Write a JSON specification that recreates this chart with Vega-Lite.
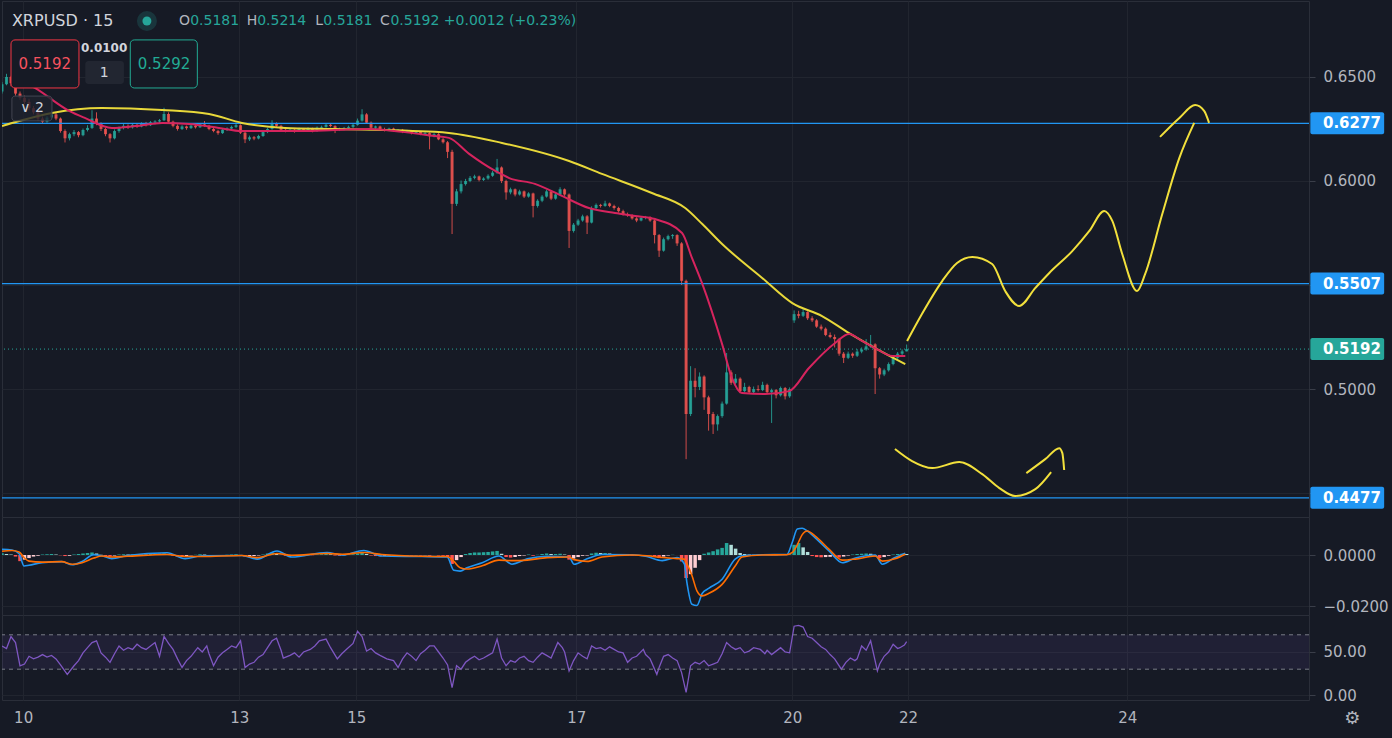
{
  "$schema": "https://vega.github.io/schema/vega-lite/v6.json",
  "background": "#161a25",
  "padding": {"left": 0, "top": 0, "right": 12, "bottom": 14},
  "spacing": 0,
  "bounds": "flush",
  "config": {
    "view": {"stroke": "#2a2e39", "strokeWidth": 1},
    "font": "DejaVu Sans",
    "axis": {"labelColor": "#b2b5be", "labelFontSize": 15, "labelFont": "DejaVu Sans", "gridColor": "#21252f", "tickColor": "#3a3e49", "domain": false, "title": null, "labelFlush": false},
    "text": {"font": "DejaVu Sans"}
  },
  "datasets": {
    "bars": [
      {"t":0,"o":0.6430,"hi":0.6475,"lo":0.6420,"c":0.6465,"hs":0.0007},
      {"t":1,"o":0.6465,"hi":0.6515,"lo":0.6460,"c":0.6500,"hs":0.0004},
      {"t":2,"o":0.6500,"hi":0.6505,"lo":0.6455,"c":0.6470,"hs":0.0002},
      {"t":3,"o":0.6470,"hi":0.6478,"lo":0.6410,"c":0.6420,"hs":-0.0006},
      {"t":4,"o":0.6420,"hi":0.6430,"lo":0.6390,"c":0.6400,"hs":-0.0024},
      {"t":5,"o":0.6400,"hi":0.6410,"lo":0.6370,"c":0.6380,"hs":-0.0018},
      {"t":6,"o":0.6380,"hi":0.6395,"lo":0.6340,"c":0.6350,"hs":-0.0012},
      {"t":7,"o":0.6350,"hi":0.6360,"lo":0.6320,"c":0.6330,"hs":-0.0006},
      {"t":8,"o":0.6330,"hi":0.6338,"lo":0.6290,"c":0.6300,"hs":-0.0003},
      {"t":9,"o":0.6300,"hi":0.6310,"lo":0.6275,"c":0.6285,"hs":0.0002},
      {"t":10,"o":0.6285,"hi":0.6312,"lo":0.6280,"c":0.6305,"hs":0.0003},
      {"t":11,"o":0.6305,"hi":0.6335,"lo":0.6298,"c":0.6320,"hs":0.0004},
      {"t":12,"o":0.6320,"hi":0.6328,"lo":0.6292,"c":0.6300,"hs":0.0002},
      {"t":13,"o":0.6300,"hi":0.6305,"lo":0.6232,"c":0.6240,"hs":-0.0001},
      {"t":14,"o":0.6240,"hi":0.6248,"lo":0.6185,"c":0.6205,"hs":-0.0004},
      {"t":15,"o":0.6205,"hi":0.6232,"lo":0.6195,"c":0.6225,"hs":-0.0003},
      {"t":16,"o":0.6225,"hi":0.6245,"lo":0.6215,"c":0.6235,"hs":0.0002},
      {"t":17,"o":0.6235,"hi":0.6240,"lo":0.6210,"c":0.6220,"hs":0.0004},
      {"t":18,"o":0.6220,"hi":0.6252,"lo":0.6215,"c":0.6245,"hs":0.0006},
      {"t":19,"o":0.6245,"hi":0.6268,"lo":0.6238,"c":0.6255,"hs":0.0008},
      {"t":20,"o":0.6255,"hi":0.6340,"lo":0.6250,"c":0.6300,"hs":0.0010},
      {"t":21,"o":0.6300,"hi":0.6330,"lo":0.6268,"c":0.6275,"hs":0.0006},
      {"t":22,"o":0.6275,"hi":0.6282,"lo":0.6240,"c":0.6250,"hs":0.0001},
      {"t":23,"o":0.6250,"hi":0.6256,"lo":0.6215,"c":0.6225,"hs":-0.0004},
      {"t":24,"o":0.6225,"hi":0.6230,"lo":0.6185,"c":0.6205,"hs":-0.0006},
      {"t":25,"o":0.6205,"hi":0.6248,"lo":0.6200,"c":0.6240,"hs":-0.0002},
      {"t":26,"o":0.6240,"hi":0.6262,"lo":0.6232,"c":0.6255,"hs":0.0002},
      {"t":27,"o":0.6255,"hi":0.6275,"lo":0.6248,"c":0.6265,"hs":0.0003},
      {"t":28,"o":0.6265,"hi":0.6272,"lo":0.6250,"c":0.6258,"hs":0.0002},
      {"t":29,"o":0.6258,"hi":0.6278,"lo":0.6252,"c":0.6270,"hs":0.0003},
      {"t":30,"o":0.6270,"hi":0.6276,"lo":0.6255,"c":0.6262,"hs":0.0002},
      {"t":31,"o":0.6262,"hi":0.6282,"lo":0.6258,"c":0.6276,"hs":0.0003},
      {"t":32,"o":0.6276,"hi":0.6284,"lo":0.6262,"c":0.6268,"hs":0.0002},
      {"t":33,"o":0.6268,"hi":0.6288,"lo":0.6264,"c":0.6282,"hs":0.0004},
      {"t":34,"o":0.6282,"hi":0.6292,"lo":0.6272,"c":0.6286,"hs":0.0005},
      {"t":35,"o":0.6286,"hi":0.6298,"lo":0.6278,"c":0.6292,"hs":0.0006},
      {"t":36,"o":0.6292,"hi":0.6352,"lo":0.6288,"c":0.6322,"hs":0.0007},
      {"t":37,"o":0.6322,"hi":0.6330,"lo":0.6278,"c":0.6285,"hs":0.0002},
      {"t":38,"o":0.6285,"hi":0.6290,"lo":0.6258,"c":0.6265,"hs":-0.0003},
      {"t":39,"o":0.6265,"hi":0.6272,"lo":0.6242,"c":0.6250,"hs":-0.0006},
      {"t":40,"o":0.6250,"hi":0.6268,"lo":0.6245,"c":0.6262,"hs":-0.0007},
      {"t":41,"o":0.6262,"hi":0.6266,"lo":0.6246,"c":0.6254,"hs":-0.0004},
      {"t":42,"o":0.6254,"hi":0.6272,"lo":0.6250,"c":0.6266,"hs":-0.0001},
      {"t":43,"o":0.6266,"hi":0.6270,"lo":0.6252,"c":0.6258,"hs":0.0001},
      {"t":44,"o":0.6258,"hi":0.6278,"lo":0.6255,"c":0.6272,"hs":0.0003},
      {"t":45,"o":0.6272,"hi":0.6288,"lo":0.6260,"c":0.6265,"hs":0.0002},
      {"t":46,"o":0.6265,"hi":0.6270,"lo":0.6244,"c":0.6250,"hs":-0.0001},
      {"t":47,"o":0.6250,"hi":0.6255,"lo":0.6234,"c":0.6240,"hs":-0.0002},
      {"t":48,"o":0.6240,"hi":0.6246,"lo":0.6222,"c":0.6230,"hs":-0.0003},
      {"t":49,"o":0.6230,"hi":0.6252,"lo":0.6226,"c":0.6246,"hs":-0.0001},
      {"t":50,"o":0.6246,"hi":0.6258,"lo":0.6240,"c":0.6252,"hs":0.0001},
      {"t":51,"o":0.6252,"hi":0.6266,"lo":0.6246,"c":0.6260,"hs":0.0002},
      {"t":52,"o":0.6260,"hi":0.6280,"lo":0.6254,"c":0.6268,"hs":0.0003},
      {"t":53,"o":0.6268,"hi":0.6272,"lo":0.6226,"c":0.6232,"hs":-0.0002},
      {"t":54,"o":0.6232,"hi":0.6238,"lo":0.6182,"c":0.6200,"hs":-0.0006},
      {"t":55,"o":0.6200,"hi":0.6218,"lo":0.6192,"c":0.6210,"hs":-0.0005},
      {"t":56,"o":0.6210,"hi":0.6216,"lo":0.6196,"c":0.6204,"hs":-0.0004},
      {"t":57,"o":0.6204,"hi":0.6222,"lo":0.6200,"c":0.6216,"hs":-0.0002},
      {"t":58,"o":0.6216,"hi":0.6240,"lo":0.6212,"c":0.6235,"hs":0.0002},
      {"t":59,"o":0.6235,"hi":0.6256,"lo":0.6230,"c":0.6250,"hs":0.0006},
      {"t":60,"o":0.6250,"hi":0.6292,"lo":0.6246,"c":0.6276,"hs":0.0010},
      {"t":61,"o":0.6276,"hi":0.6282,"lo":0.6260,"c":0.6265,"hs":0.0006},
      {"t":62,"o":0.6265,"hi":0.6270,"lo":0.6240,"c":0.6246,"hs":0.0001},
      {"t":63,"o":0.6246,"hi":0.6252,"lo":0.6234,"c":0.6240,"hs":-0.0003},
      {"t":64,"o":0.6240,"hi":0.6252,"lo":0.6236,"c":0.6246,"hs":-0.0004},
      {"t":65,"o":0.6246,"hi":0.6250,"lo":0.6232,"c":0.6240,"hs":-0.0003},
      {"t":66,"o":0.6240,"hi":0.6256,"lo":0.6236,"c":0.6250,"hs":-0.0001},
      {"t":67,"o":0.6250,"hi":0.6254,"lo":0.6238,"c":0.6245,"hs":0.0000},
      {"t":68,"o":0.6245,"hi":0.6258,"lo":0.6240,"c":0.6252,"hs":0.0001},
      {"t":69,"o":0.6252,"hi":0.6256,"lo":0.6234,"c":0.6240,"hs":-0.0001},
      {"t":70,"o":0.6240,"hi":0.6262,"lo":0.6236,"c":0.6256,"hs":0.0002},
      {"t":71,"o":0.6256,"hi":0.6266,"lo":0.6250,"c":0.6260,"hs":0.0003},
      {"t":72,"o":0.6260,"hi":0.6278,"lo":0.6256,"c":0.6270,"hs":0.0004},
      {"t":73,"o":0.6270,"hi":0.6274,"lo":0.6258,"c":0.6264,"hs":0.0003},
      {"t":74,"o":0.6264,"hi":0.6268,"lo":0.6230,"c":0.6245,"hs":-0.0002},
      {"t":75,"o":0.6245,"hi":0.6256,"lo":0.6240,"c":0.6250,"hs":-0.0003},
      {"t":76,"o":0.6250,"hi":0.6260,"lo":0.6244,"c":0.6255,"hs":-0.0001},
      {"t":77,"o":0.6255,"hi":0.6266,"lo":0.6250,"c":0.6260,"hs":0.0001},
      {"t":78,"o":0.6260,"hi":0.6276,"lo":0.6254,"c":0.6270,"hs":0.0003},
      {"t":79,"o":0.6270,"hi":0.6300,"lo":0.6266,"c":0.6290,"hs":0.0006},
      {"t":80,"o":0.6290,"hi":0.6345,"lo":0.6285,"c":0.6320,"hs":0.0009},
      {"t":81,"o":0.6320,"hi":0.6326,"lo":0.6274,"c":0.6280,"hs":0.0004},
      {"t":82,"o":0.6280,"hi":0.6286,"lo":0.6250,"c":0.6256,"hs":-0.0002},
      {"t":83,"o":0.6256,"hi":0.6266,"lo":0.6250,"c":0.6262,"hs":-0.0004},
      {"t":84,"o":0.6262,"hi":0.6266,"lo":0.6244,"c":0.6250,"hs":-0.0005},
      {"t":85,"o":0.6250,"hi":0.6256,"lo":0.6238,"c":0.6245,"hs":-0.0004},
      {"t":86,"o":0.6245,"hi":0.6256,"lo":0.6240,"c":0.6252,"hs":-0.0002},
      {"t":87,"o":0.6252,"hi":0.6256,"lo":0.6236,"c":0.6240,"hs":-0.0002},
      {"t":88,"o":0.6240,"hi":0.6250,"lo":0.6236,"c":0.6246,"hs":-0.0001},
      {"t":89,"o":0.6246,"hi":0.6250,"lo":0.6230,"c":0.6235,"hs":-0.0002},
      {"t":90,"o":0.6235,"hi":0.6246,"lo":0.6230,"c":0.6240,"hs":-0.0001},
      {"t":91,"o":0.6240,"hi":0.6244,"lo":0.6224,"c":0.6230,"hs":-0.0002},
      {"t":92,"o":0.6230,"hi":0.6240,"lo":0.6226,"c":0.6236,"hs":-0.0001},
      {"t":93,"o":0.6236,"hi":0.6240,"lo":0.6220,"c":0.6226,"hs":-0.0002},
      {"t":94,"o":0.6226,"hi":0.6236,"lo":0.6220,"c":0.6230,"hs":-0.0001},
      {"t":95,"o":0.6230,"hi":0.6234,"lo":0.6152,"c":0.6215,"hs":-0.0003},
      {"t":96,"o":0.6215,"hi":0.6230,"lo":0.6210,"c":0.6225,"hs":0.0000},
      {"t":97,"o":0.6225,"hi":0.6230,"lo":0.6196,"c":0.6200,"hs":-0.0002},
      {"t":98,"o":0.6200,"hi":0.6206,"lo":0.6180,"c":0.6186,"hs":-0.0003},
      {"t":99,"o":0.6186,"hi":0.6192,"lo":0.6110,"c":0.6140,"hs":-0.0008},
      {"t":100,"o":0.6140,"hi":0.6150,"lo":0.5745,"c":0.5890,"hs":-0.0035},
      {"t":101,"o":0.5890,"hi":0.5962,"lo":0.5880,"c":0.5950,"hs":-0.0020},
      {"t":102,"o":0.5950,"hi":0.6002,"lo":0.5940,"c":0.5985,"hs":-0.0008},
      {"t":103,"o":0.5985,"hi":0.6010,"lo":0.5978,"c":0.6000,"hs":0.0004},
      {"t":104,"o":0.6000,"hi":0.6024,"lo":0.5994,"c":0.6015,"hs":0.0008},
      {"t":105,"o":0.6015,"hi":0.6030,"lo":0.6008,"c":0.6022,"hs":0.0010},
      {"t":106,"o":0.6022,"hi":0.6026,"lo":0.5998,"c":0.6005,"hs":0.0010},
      {"t":107,"o":0.6005,"hi":0.6018,"lo":0.6000,"c":0.6012,"hs":0.0011},
      {"t":108,"o":0.6012,"hi":0.6032,"lo":0.6006,"c":0.6025,"hs":0.0012},
      {"t":109,"o":0.6025,"hi":0.6048,"lo":0.6020,"c":0.6040,"hs":0.0014},
      {"t":110,"o":0.6040,"hi":0.6106,"lo":0.6034,"c":0.6065,"hs":0.0016},
      {"t":111,"o":0.6065,"hi":0.6070,"lo":0.5990,"c":0.6000,"hs":0.0005},
      {"t":112,"o":0.6000,"hi":0.6006,"lo":0.5910,"c":0.5945,"hs":-0.0008},
      {"t":113,"o":0.5945,"hi":0.5968,"lo":0.5936,"c":0.5960,"hs":-0.0010},
      {"t":114,"o":0.5960,"hi":0.5964,"lo":0.5926,"c":0.5935,"hs":-0.0008},
      {"t":115,"o":0.5935,"hi":0.5958,"lo":0.5930,"c":0.5950,"hs":-0.0004},
      {"t":116,"o":0.5950,"hi":0.5954,"lo":0.5918,"c":0.5925,"hs":-0.0002},
      {"t":117,"o":0.5925,"hi":0.5946,"lo":0.5920,"c":0.5940,"hs":0.0002},
      {"t":118,"o":0.5940,"hi":0.5944,"lo":0.5825,"c":0.5880,"hs":-0.0003},
      {"t":119,"o":0.5880,"hi":0.5912,"lo":0.5872,"c":0.5905,"hs":0.0001},
      {"t":120,"o":0.5905,"hi":0.5932,"lo":0.5898,"c":0.5925,"hs":0.0004},
      {"t":121,"o":0.5925,"hi":0.5958,"lo":0.5920,"c":0.5950,"hs":0.0006},
      {"t":122,"o":0.5950,"hi":0.5954,"lo":0.5908,"c":0.5915,"hs":0.0004},
      {"t":123,"o":0.5915,"hi":0.5942,"lo":0.5910,"c":0.5935,"hs":0.0004},
      {"t":124,"o":0.5935,"hi":0.5970,"lo":0.5930,"c":0.5960,"hs":0.0005},
      {"t":125,"o":0.5960,"hi":0.5964,"lo":0.5928,"c":0.5935,"hs":0.0002},
      {"t":126,"o":0.5935,"hi":0.5940,"lo":0.5678,"c":0.5760,"hs":-0.0018},
      {"t":127,"o":0.5760,"hi":0.5798,"lo":0.5752,"c":0.5790,"hs":-0.0014},
      {"t":128,"o":0.5790,"hi":0.5818,"lo":0.5784,"c":0.5810,"hs":-0.0008},
      {"t":129,"o":0.5810,"hi":0.5838,"lo":0.5804,"c":0.5830,"hs":-0.0003},
      {"t":130,"o":0.5830,"hi":0.5836,"lo":0.5745,"c":0.5800,"hs":-0.0002},
      {"t":131,"o":0.5800,"hi":0.5878,"lo":0.5796,"c":0.5870,"hs":0.0006},
      {"t":132,"o":0.5870,"hi":0.5892,"lo":0.5864,"c":0.5885,"hs":0.0009},
      {"t":133,"o":0.5885,"hi":0.5890,"lo":0.5872,"c":0.5880,"hs":0.0008},
      {"t":134,"o":0.5880,"hi":0.5905,"lo":0.5876,"c":0.5892,"hs":0.0008},
      {"t":135,"o":0.5892,"hi":0.5896,"lo":0.5874,"c":0.5880,"hs":0.0006},
      {"t":136,"o":0.5880,"hi":0.5886,"lo":0.5862,"c":0.5870,"hs":0.0003},
      {"t":137,"o":0.5870,"hi":0.5876,"lo":0.5848,"c":0.5855,"hs":0.0001},
      {"t":138,"o":0.5855,"hi":0.5862,"lo":0.5834,"c":0.5840,"hs":-0.0001},
      {"t":139,"o":0.5840,"hi":0.5848,"lo":0.5828,"c":0.5835,"hs":-0.0002},
      {"t":140,"o":0.5835,"hi":0.5840,"lo":0.5814,"c":0.5820,"hs":-0.0003},
      {"t":141,"o":0.5820,"hi":0.5826,"lo":0.5802,"c":0.5810,"hs":-0.0003},
      {"t":142,"o":0.5810,"hi":0.5828,"lo":0.5806,"c":0.5822,"hs":-0.0002},
      {"t":143,"o":0.5822,"hi":0.5832,"lo":0.5816,"c":0.5826,"hs":-0.0001},
      {"t":144,"o":0.5826,"hi":0.5830,"lo":0.5804,"c":0.5810,"hs":-0.0002},
      {"t":145,"o":0.5810,"hi":0.5814,"lo":0.5700,"c":0.5740,"hs":-0.0008},
      {"t":146,"o":0.5740,"hi":0.5745,"lo":0.5635,"c":0.5665,"hs":-0.0012},
      {"t":147,"o":0.5665,"hi":0.5728,"lo":0.5660,"c":0.5720,"hs":-0.0006},
      {"t":148,"o":0.5720,"hi":0.5742,"lo":0.5714,"c":0.5735,"hs":-0.0002},
      {"t":149,"o":0.5735,"hi":0.5745,"lo":0.5722,"c":0.5740,"hs":0.0001},
      {"t":150,"o":0.5740,"hi":0.5744,"lo":0.5688,"c":0.5700,"hs":0.0000},
      {"t":151,"o":0.5700,"hi":0.5706,"lo":0.5500,"c":0.5520,"hs":-0.0025},
      {"t":152,"o":0.5520,"hi":0.5526,"lo":0.4663,"c":0.4880,"hs":-0.0090},
      {"t":153,"o":0.4880,"hi":0.5110,"lo":0.4870,"c":0.5040,"hs":-0.0075},
      {"t":154,"o":0.5040,"hi":0.5100,"lo":0.4960,"c":0.5010,"hs":-0.0050},
      {"t":155,"o":0.5010,"hi":0.5080,"lo":0.4995,"c":0.5060,"hs":-0.0020},
      {"t":156,"o":0.5060,"hi":0.5066,"lo":0.4900,"c":0.4960,"hs":0.0005},
      {"t":157,"o":0.4960,"hi":0.4968,"lo":0.4800,"c":0.4880,"hs":0.0010},
      {"t":158,"o":0.4880,"hi":0.4890,"lo":0.4784,"c":0.4830,"hs":0.0015},
      {"t":159,"o":0.4830,"hi":0.4878,"lo":0.4800,"c":0.4870,"hs":0.0022},
      {"t":160,"o":0.4870,"hi":0.4940,"lo":0.4862,"c":0.4930,"hs":0.0028},
      {"t":161,"o":0.4930,"hi":0.5173,"lo":0.4925,"c":0.5080,"hs":0.0047},
      {"t":162,"o":0.5080,"hi":0.5090,"lo":0.5020,"c":0.5030,"hs":0.0040},
      {"t":163,"o":0.5030,"hi":0.5072,"lo":0.5024,"c":0.5050,"hs":0.0025},
      {"t":164,"o":0.5050,"hi":0.5056,"lo":0.4980,"c":0.4990,"hs":0.0008},
      {"t":165,"o":0.4990,"hi":0.5030,"lo":0.4984,"c":0.5010,"hs":0.0004},
      {"t":166,"o":0.5010,"hi":0.5016,"lo":0.4978,"c":0.4985,"hs":0.0002},
      {"t":167,"o":0.4985,"hi":0.5012,"lo":0.4980,"c":0.5000,"hs":0.0001},
      {"t":168,"o":0.5000,"hi":0.5018,"lo":0.4988,"c":0.4995,"hs":0.0002},
      {"t":169,"o":0.4995,"hi":0.5035,"lo":0.4990,"c":0.5020,"hs":0.0002},
      {"t":170,"o":0.5020,"hi":0.5026,"lo":0.4978,"c":0.4985,"hs":0.0001},
      {"t":171,"o":0.4985,"hi":0.5002,"lo":0.4837,"c":0.4995,"hs":-0.0001},
      {"t":172,"o":0.4995,"hi":0.5000,"lo":0.4955,"c":0.4970,"hs":-0.0001},
      {"t":173,"o":0.4970,"hi":0.5012,"lo":0.4964,"c":0.5005,"hs":0.0001},
      {"t":174,"o":0.5005,"hi":0.5010,"lo":0.4950,"c":0.4965,"hs":0.0000},
      {"t":175,"o":0.4965,"hi":0.5008,"lo":0.4958,"c":0.5000,"hs":0.0003},
      {"t":176,"o":0.5330,"hi":0.5378,"lo":0.5318,"c":0.5360,"hs":0.0040},
      {"t":177,"o":0.5360,"hi":0.5376,"lo":0.5340,"c":0.5352,"hs":0.0047},
      {"t":178,"o":0.5352,"hi":0.5385,"lo":0.5346,"c":0.5370,"hs":0.0030},
      {"t":179,"o":0.5370,"hi":0.5374,"lo":0.5332,"c":0.5340,"hs":0.0012},
      {"t":180,"o":0.5340,"hi":0.5350,"lo":0.5322,"c":0.5330,"hs":-0.0004},
      {"t":181,"o":0.5330,"hi":0.5336,"lo":0.5294,"c":0.5300,"hs":-0.0008},
      {"t":182,"o":0.5300,"hi":0.5310,"lo":0.5282,"c":0.5290,"hs":-0.0009},
      {"t":183,"o":0.5290,"hi":0.5296,"lo":0.5254,"c":0.5260,"hs":-0.0008},
      {"t":184,"o":0.5260,"hi":0.5272,"lo":0.5244,"c":0.5250,"hs":-0.0007},
      {"t":185,"o":0.5250,"hi":0.5262,"lo":0.5200,"c":0.5240,"hs":-0.0008},
      {"t":186,"o":0.5240,"hi":0.5246,"lo":0.5160,"c":0.5170,"hs":-0.0010},
      {"t":187,"o":0.5170,"hi":0.5178,"lo":0.5125,"c":0.5150,"hs":-0.0006},
      {"t":188,"o":0.5150,"hi":0.5180,"lo":0.5144,"c":0.5170,"hs":-0.0002},
      {"t":189,"o":0.5170,"hi":0.5176,"lo":0.5150,"c":0.5160,"hs":0.0002},
      {"t":190,"o":0.5160,"hi":0.5192,"lo":0.5154,"c":0.5180,"hs":0.0004},
      {"t":191,"o":0.5180,"hi":0.5200,"lo":0.5172,"c":0.5190,"hs":0.0005},
      {"t":192,"o":0.5190,"hi":0.5240,"lo":0.5184,"c":0.5205,"hs":0.0006},
      {"t":193,"o":0.5205,"hi":0.5260,"lo":0.5198,"c":0.5215,"hs":0.0005},
      {"t":194,"o":0.5215,"hi":0.5220,"lo":0.4976,"c":0.5100,"hs":-0.0006},
      {"t":195,"o":0.5100,"hi":0.5106,"lo":0.5050,"c":0.5070,"hs":-0.0012},
      {"t":196,"o":0.5070,"hi":0.5098,"lo":0.5062,"c":0.5090,"hs":-0.0008},
      {"t":197,"o":0.5090,"hi":0.5128,"lo":0.5084,"c":0.5120,"hs":-0.0003},
      {"t":198,"o":0.5120,"hi":0.5158,"lo":0.5114,"c":0.5150,"hs":0.0002},
      {"t":199,"o":0.5150,"hi":0.5178,"lo":0.5142,"c":0.5170,"hs":0.0004},
      {"t":200,"o":0.5170,"hi":0.5190,"lo":0.5158,"c":0.5181,"hs":0.0005},
      {"t":201,"o":0.5181,"hi":0.5214,"lo":0.5181,"c":0.5192,"hs":0.0004}
    ],
    "ma": [
      {"t":4.4,"v":0.6481},{"t":7.3,"v":0.6447},{"t":14.9,"v":0.6337},{"t":18.4,"v":0.6303},{"t":24.4,"v":0.6255},
      {"t":29.6,"v":0.6264},{"t":35.6,"v":0.6279},{"t":41.6,"v":0.6274},{"t":48.2,"v":0.6255},{"t":53.3,"v":0.6240},
      {"t":59.3,"v":0.6240},{"t":66.7,"v":0.6240},{"t":74,"v":0.6245},{"t":81.6,"v":0.6250},{"t":88.9,"v":0.6236},
      {"t":96.2,"v":0.6216},{"t":99.3,"v":0.6207},{"t":103.8,"v":0.6130},{"t":109.6,"v":0.6048},{"t":112.7,"v":0.6014},
      {"t":118.4,"v":0.5986},{"t":124.4,"v":0.5928},{"t":130.4,"v":0.5870},{"t":136.2,"v":0.5846},{"t":140.7,"v":0.5832},
      {"t":145.1,"v":0.5817},{"t":151.1,"v":0.5750},{"t":153.3,"v":0.5630},{"t":155.6,"v":0.5505},{"t":160,"v":0.5216},
      {"t":162.2,"v":0.5053},{"t":164.4,"v":0.4981},{"t":169.6,"v":0.4976},{"t":174.9,"v":0.4990},{"t":179.3,"v":0.5101},
      {"t":185.1,"v":0.5221},{"t":188.2,"v":0.5264},{"t":191.1,"v":0.5231},{"t":194,"v":0.5197},{"t":197.8,"v":0.5159},
      {"t":200.7,"v":0.5159}
    ],
    "ema": [
      {"t":0,"v":0.6264},{"t":3.8,"v":0.6288},{"t":11.1,"v":0.6327},{"t":22.2,"v":0.6351},{"t":35.6,"v":0.6341},
      {"t":46,"v":0.6322},{"t":53.3,"v":0.6279},{"t":62.9,"v":0.6255},{"t":74,"v":0.6250},{"t":96.2,"v":0.6236},
      {"t":99.3,"v":0.6231},{"t":111.1,"v":0.6183},{"t":126,"v":0.6096},{"t":133.3,"v":0.6034},{"t":144.4,"v":0.5942},
      {"t":151.8,"v":0.5870},{"t":155.6,"v":0.5793},{"t":160,"v":0.5697},{"t":168.9,"v":0.5534},{"t":175.6,"v":0.5413},
      {"t":182.2,"v":0.5351},{"t":188.2,"v":0.5269},{"t":194,"v":0.5197},{"t":200.7,"v":0.5120}
    ],
    "draw": [
      {"g":"a","t":201.1,"p":0.5231},{"g":"a","t":204.4,"p":0.5361},{"g":"a","t":208.9,"p":0.5519},{"g":"a","t":212.2,"p":0.5606},
      {"g":"a","t":215.6,"p":0.5635},{"g":"a","t":220.0,"p":0.5601},{"g":"a","t":222.9,"p":0.5471},{"g":"a","t":226.0,"p":0.5399},
      {"g":"a","t":229.6,"p":0.5486},{"g":"a","t":232.7,"p":0.5558},{"g":"a","t":237.8,"p":0.5663},{"g":"a","t":241.6,"p":0.5760},
      {"g":"a","t":244.9,"p":0.5856},{"g":"a","t":246.7,"p":0.5808},{"g":"a","t":248.9,"p":0.5649},{"g":"a","t":252.2,"p":0.5471},
      {"g":"a","t":254.0,"p":0.5553},{"g":"a","t":257.8,"p":0.5841},{"g":"a","t":261.6,"p":0.6111},{"g":"a","t":264.9,"p":0.6279},
      {"g":"b","t":257.3,"p":0.6212},{"g":"b","t":261.6,"p":0.6303},{"g":"b","t":265.1,"p":0.6365},{"g":"b","t":267.1,"p":0.6337},{"g":"b","t":268.2,"p":0.6279},
      {"g":"c","t":198.4,"p":0.4712},{"g":"c","t":202.2,"p":0.4654},{"g":"c","t":206.7,"p":0.4620},{"g":"c","t":212.7,"p":0.4649},
      {"g":"c","t":217.8,"p":0.4591},{"g":"c","t":221.6,"p":0.4524},{"g":"c","t":225.1,"p":0.4486},{"g":"c","t":229.6,"p":0.4519},{"g":"c","t":233.1,"p":0.4601},
      {"g":"d","t":227.6,"p":0.4596},{"g":"d","t":231.8,"p":0.4663},{"g":"d","t":234.9,"p":0.4716},{"g":"d","t":235.6,"p":0.4692},{"g":"d","t":236.0,"p":0.4611}
    ],
    "levels": [
      {"p":0.6277,"k":"lvl"},{"p":0.5507,"k":"lvl"},{"p":0.4477,"k":"lvl"},{"p":0.5192,"k":"last"}
    ],
    "macd": [
      {"t":0,"m":0.0022,"s":0.0015},{"t":2.2,"m":0.0020,"s":0.0018},{"t":3.8,"m":0.0005,"s":0.0012},{"t":4.9,"m":-0.0043,"s":-0.0010},
      {"t":6,"m":-0.0040,"s":-0.0024},{"t":8.9,"m":-0.0030,"s":-0.0028},{"t":13.3,"m":-0.0026,"s":-0.0026},{"t":15.6,"m":-0.0038,"s":-0.0036},
      {"t":17.8,"m":-0.0025,"s":-0.0030},{"t":20.4,"m":0.0001,"s":-0.0012},{"t":22.2,"m":-0.0003,"s":-0.0004},{"t":24.4,"m":-0.0014,"s":-0.0008},
      {"t":27.8,"m":-0.0002,"s":-0.0005},{"t":36.7,"m":0.0009,"s":0.0002},{"t":40.7,"m":-0.0014,"s":-0.0006},{"t":44.4,"m":-0.0003,"s":-0.0006},
      {"t":53.3,"m":-0.0002,"s":-0.0002},{"t":56.7,"m":-0.0016,"s":-0.0010},{"t":61.1,"m":0.0016,"s":0.0006},{"t":64.4,"m":-0.0008,"s":-0.0001},
      {"t":72.2,"m":0.0010,"s":0.0006},{"t":75.6,"m":0.0000,"s":0.0003},{"t":80.4,"m":0.0018,"s":0.0010},{"t":84.4,"m":-0.0004,"s":0.0002},
      {"t":93.3,"m":-0.0006,"s":-0.0005},{"t":98.9,"m":-0.0008,"s":-0.0006},{"t":100.4,"m":-0.0060,"s":-0.0025},{"t":101.8,"m":-0.0063,"s":-0.0050},
      {"t":103.3,"m":-0.0050,"s":-0.0055},{"t":106.7,"m":-0.0030,"s":-0.0042},{"t":110.4,"m":-0.0004,"s":-0.0020},{"t":113.3,"m":-0.0036,"s":-0.0022},
      {"t":116.7,"m":-0.0015,"s":-0.0020},{"t":121.1,"m":-0.0005,"s":-0.0010},{"t":126,"m":-0.0008,"s":-0.0008},{"t":127.1,"m":-0.0036,"s":-0.0018},
      {"t":130,"m":-0.0015,"s":-0.0025},{"t":133.3,"m":0.0002,"s":-0.0008},{"t":140,"m":0.0001,"s":0.0000},{"t":143.3,"m":-0.0006,"s":-0.0003},
      {"t":146.7,"m":-0.0022,"s":-0.0010},{"t":150,"m":-0.0010,"s":-0.0014},{"t":151.6,"m":-0.0035,"s":-0.0016},{"t":152.2,"m":-0.0110,"s":-0.0035},
      {"t":153.3,"m":-0.0193,"s":-0.0080},{"t":154.4,"m":-0.0198,"s":-0.0140},{"t":155.6,"m":-0.0150,"s":-0.0160},{"t":157.1,"m":-0.0130,"s":-0.0150},
      {"t":160,"m":-0.0095,"s":-0.0115},{"t":162.9,"m":-0.0016,"s":-0.0043},{"t":164.4,"m":-0.0003,"s":-0.0008},{"t":168.9,"m":0.0001,"s":0.0000},
      {"t":174.4,"m":0.0002,"s":0.0001},{"t":175.6,"m":0.0050,"s":0.0010},{"t":176.7,"m":0.0102,"s":0.0040},{"t":177.8,"m":0.0105,"s":0.0080},
      {"t":178.9,"m":0.0095,"s":0.0094},{"t":180.7,"m":0.0067,"s":0.0074},{"t":183.8,"m":0.0015,"s":0.0022},{"t":186.7,"m":-0.0030,"s":-0.0020},
      {"t":189.6,"m":-0.0012,"s":-0.0016},{"t":194,"m":0.0000,"s":-0.0004},{"t":195.6,"m":-0.0036,"s":-0.0024},{"t":198.4,"m":-0.0010,"s":-0.0015},
      {"t":200.7,"m":0.0007,"s":0.0003}
    ],
    "rsi": [
      {"t":0,"r":57},{"t":1,"r":54},{"t":2,"r":68},{"t":3,"r":61},{"t":4,"r":34},{"t":5,"r":36},{"t":6,"r":45},{"t":7,"r":42},
      {"t":8,"r":44},{"t":9,"r":47},{"t":10,"r":44},{"t":11,"r":46},{"t":12,"r":42},{"t":13,"r":35},{"t":14.5,"r":24},{"t":16,"r":34},
      {"t":17,"r":40},{"t":18,"r":49},{"t":19,"r":55},{"t":20,"r":61},{"t":21,"r":63},{"t":22,"r":49},{"t":23,"r":44},{"t":24,"r":38},
      {"t":25,"r":48},{"t":26,"r":57},{"t":27,"r":52},{"t":28,"r":55},{"t":29,"r":53},{"t":30,"r":59},{"t":31,"r":55},{"t":32,"r":53},
      {"t":33,"r":57},{"t":34,"r":61},{"t":35,"r":45},{"t":36,"r":68},{"t":37,"r":60},{"t":38,"r":53},{"t":39,"r":42},{"t":40,"r":32},
      {"t":41,"r":40},{"t":42,"r":45},{"t":43.5,"r":55},{"t":44.5,"r":50},{"t":45.5,"r":57},{"t":46,"r":48},{"t":47,"r":34},{"t":48,"r":44},
      {"t":49,"r":49},{"t":50,"r":53},{"t":51,"r":57},{"t":52,"r":55},{"t":53,"r":63},{"t":54,"r":32},{"t":55,"r":36},{"t":56,"r":38},
      {"t":57,"r":44},{"t":58,"r":47},{"t":59,"r":55},{"t":60,"r":63},{"t":61,"r":66},{"t":62,"r":52},{"t":62.5,"r":43},{"t":64,"r":46},
      {"t":65,"r":49},{"t":66,"r":44},{"t":67,"r":50},{"t":68.5,"r":53},{"t":69.5,"r":57},{"t":70.5,"r":63},{"t":72,"r":65},{"t":73,"r":55},
      {"t":74.5,"r":42},{"t":75.5,"r":48},{"t":76.5,"r":53},{"t":78,"r":60},{"t":79,"r":74},{"t":80,"r":68},{"t":81,"r":51},{"t":82,"r":54},
      {"t":83,"r":49},{"t":84,"r":46},{"t":85.5,"r":42},{"t":87,"r":40},{"t":88,"r":32},{"t":89,"r":42},{"t":90,"r":49},{"t":91,"r":45},
      {"t":92,"r":40},{"t":93,"r":48},{"t":94,"r":52},{"t":95,"r":57},{"t":96,"r":57},{"t":97,"r":50},{"t":98,"r":43},{"t":99,"r":35},
      {"t":100,"r":8.5},{"t":101,"r":34},{"t":102,"r":30},{"t":103,"r":38},{"t":104,"r":42},{"t":105,"r":45},{"t":106,"r":41},{"t":107,"r":43},
      {"t":108,"r":46},{"t":109,"r":49},{"t":110,"r":65},{"t":111,"r":43},{"t":112,"r":34},{"t":113,"r":40},{"t":114,"r":38},{"t":115,"r":43},
      {"t":116,"r":45},{"t":117,"r":40},{"t":118,"r":38},{"t":119,"r":44},{"t":120,"r":49},{"t":121,"r":46},{"t":122,"r":43},{"t":123.5,"r":61},
      {"t":124.5,"r":55},{"t":125,"r":50},{"t":126,"r":28},{"t":127,"r":40},{"t":128,"r":49},{"t":129,"r":45},{"t":130,"r":42},{"t":131,"r":57},
      {"t":132,"r":54},{"t":133,"r":55},{"t":134,"r":52},{"t":135,"r":56},{"t":136,"r":53},{"t":137,"r":50},{"t":138,"r":49},{"t":139,"r":38},
      {"t":140,"r":43},{"t":141,"r":45},{"t":142.5,"r":53},{"t":143,"r":47},{"t":144,"r":42},{"t":145.5,"r":24},{"t":146,"r":32},{"t":147,"r":45},
      {"t":148,"r":47},{"t":149,"r":43},{"t":150,"r":40},{"t":151,"r":26},{"t":152,"r":3},{"t":153,"r":34},{"t":154,"r":38},{"t":155,"r":36},
      {"t":156,"r":40},{"t":157,"r":34},{"t":158,"r":36},{"t":159,"r":38},{"t":160,"r":48},{"t":161,"r":61},{"t":162,"r":56},{"t":163,"r":53},
      {"t":164,"r":55},{"t":165,"r":49},{"t":166,"r":51},{"t":167,"r":55},{"t":168.5,"r":53},{"t":169.5,"r":48},{"t":170,"r":52},{"t":171,"r":47},
      {"t":172,"r":51},{"t":173,"r":55},{"t":174,"r":50},{"t":175,"r":49},{"t":176,"r":80},{"t":177,"r":81},{"t":178,"r":79},{"t":179,"r":68},
      {"t":180,"r":66},{"t":181,"r":61},{"t":182,"r":56},{"t":183,"r":53},{"t":184,"r":47},{"t":185,"r":42},{"t":186.5,"r":30},{"t":187.5,"r":38},
      {"t":188.5,"r":43},{"t":189.5,"r":40},{"t":190,"r":42},{"t":191,"r":57},{"t":192,"r":52},{"t":193,"r":63},{"t":194.5,"r":28},{"t":195,"r":36},
      {"t":196,"r":45},{"t":197,"r":50},{"t":198,"r":59},{"t":199,"r":54},{"t":199.5,"r":55},{"t":200.5,"r":58},{"t":201,"r":62}
    ]
  },
  "vconcat": [
    {
      "width": 1307,
      "height": 516,
      "layer": [
        {
          "data": {"name": "bars"},
          "mark": {"type": "rule", "strokeWidth": 1, "clip": true, "opacity": 0.85},
          "encoding": {
            "x": {"field": "t", "type": "quantitative", "scale": {"domain": [0, 290.4], "nice": false, "zero": false, "padding": 0},
                  "axis": {"values": [4.7, 52.7, 78.7, 127.6, 175.6, 201.3, 250], "labels": false, "ticks": false, "grid": true}},
            "y": {"field": "lo", "type": "quantitative", "scale": {"domain": [0.4385, 0.6865], "nice": false, "zero": false, "padding": 0},
                  "axis": {"orient": "right", "values": [0.45, 0.5, 0.55, 0.6, 0.65], "grid": true, "tickSize": 6, "labelPadding": 8,
                           "labelExpr": "datum.value == 0.45 || datum.value == 0.55 ? '' : format(datum.value, '.4f')"}},
            "y2": {"field": "hi"},
            "color": {"condition": {"test": "datum.c >= datum.o", "value": "#26a69a"}, "value": "#ef5350"}
          }
        },
        {
          "data": {"name": "bars"},
          "mark": {"type": "bar", "size": 3, "clip": true, "opacity": 0.85},
          "encoding": {
            "x": {"field": "t", "type": "quantitative"},
            "y": {"field": "o", "type": "quantitative"},
            "y2": {"field": "c"},
            "color": {"condition": {"test": "datum.c >= datum.o", "value": "#26a69a"}, "value": "#ef5350"}
          }
        },
        {
          "data": {"name": "levels"},
          "transform": [{"filter": "datum.k == 'lvl'"}],
          "mark": {"type": "rule", "strokeWidth": 1.2, "color": "#2196f3"},
          "encoding": {"y": {"field": "p", "type": "quantitative"}}
        },
        {
          "data": {"name": "levels"},
          "transform": [{"filter": "datum.k == 'last'"}],
          "mark": {"type": "rule", "strokeWidth": 1, "color": "#26a69a", "strokeDash": [1, 3]},
          "encoding": {"y": {"field": "p", "type": "quantitative"}}
        },
        {
          "data": {"name": "ema"},
          "mark": {"type": "line", "color": "#e8d83a", "strokeWidth": 2, "interpolate": "monotone", "clip": true},
          "encoding": {
            "x": {"field": "t", "type": "quantitative"},
            "y": {"field": "v", "type": "quantitative"}
          }
        },
        {
          "data": {"name": "ma"},
          "mark": {"type": "line", "color": "#d6245e", "strokeWidth": 2, "interpolate": "monotone", "clip": true},
          "encoding": {
            "x": {"field": "t", "type": "quantitative"},
            "y": {"field": "v", "type": "quantitative"}
          }
        },
        {
          "data": {"name": "draw"},
          "mark": {"type": "line", "color": "#f2e03c", "strokeWidth": 2, "interpolate": "monotone"},
          "encoding": {
            "x": {"field": "t", "type": "quantitative"},
            "y": {"field": "p", "type": "quantitative"},
            "detail": {"field": "g"}
          }
        },
        {
          "data": {"name": "levels"},
          "mark": {"type": "bar", "size": 22, "cornerRadius": 2},
          "encoding": {
            "x": {"datum": 290.7},
            "x2": {"datum": 307.1},
            "y": {"field": "p", "type": "quantitative"},
            "color": {"field": "k", "type": "nominal", "scale": {"domain": ["lvl", "last"], "range": ["#2196f3", "#26a69a"]}, "legend": null}
          }
        },
        {
          "data": {"name": "levels"},
          "mark": {"type": "text", "align": "left", "baseline": "middle", "fontSize": 15, "fontWeight": "bold", "color": "#ffffff"},
          "encoding": {
            "x": {"datum": 293.5},
            "y": {"field": "p", "type": "quantitative"},
            "text": {"field": "p", "format": ".4f"}
          }
        },
        {
          "data": {"values": [{}]},
          "mark": {"type": "text", "text": "XRPUSD · 15", "align": "left", "baseline": "middle", "fontSize": 16, "color": "#d1d4dc"},
          "encoding": {"x": {"datum": 2.2}, "y": {"datum": 0.6769}}
        },
        {
          "data": {"values": [{}]},
          "mark": {"type": "point", "filled": true, "size": 400, "color": "#26a69a", "opacity": 0.2},
          "encoding": {"x": {"datum": 32.2}, "y": {"datum": 0.6769}}
        },
        {
          "data": {"values": [{}]},
          "mark": {"type": "point", "filled": true, "size": 80, "color": "#26a69a", "opacity": 1},
          "encoding": {"x": {"datum": 32.2}, "y": {"datum": 0.6769}}
        },
        {
          "data": {"values": [{}]},
          "mark": {"type": "text", "text": "O", "align": "left", "baseline": "middle", "fontSize": 14, "color": "#b2b5be"},
          "encoding": {"x": {"datum": 39.3}, "y": {"datum": 0.6769}}
        },
        {
          "data": {"values": [{}]},
          "mark": {"type": "text", "text": "0.5181", "align": "left", "baseline": "middle", "fontSize": 14, "color": "#26a69a"},
          "encoding": {"x": {"datum": 41.8}, "y": {"datum": 0.6769}}
        },
        {
          "data": {"values": [{}]},
          "mark": {"type": "text", "text": "H", "align": "left", "baseline": "middle", "fontSize": 14, "color": "#b2b5be"},
          "encoding": {"x": {"datum": 54.4}, "y": {"datum": 0.6769}}
        },
        {
          "data": {"values": [{}]},
          "mark": {"type": "text", "text": "0.5214", "align": "left", "baseline": "middle", "fontSize": 14, "color": "#26a69a"},
          "encoding": {"x": {"datum": 56.7}, "y": {"datum": 0.6769}}
        },
        {
          "data": {"values": [{}]},
          "mark": {"type": "text", "text": "L", "align": "left", "baseline": "middle", "fontSize": 14, "color": "#b2b5be"},
          "encoding": {"x": {"datum": 69.6}, "y": {"datum": 0.6769}}
        },
        {
          "data": {"values": [{}]},
          "mark": {"type": "text", "text": "0.5181", "align": "left", "baseline": "middle", "fontSize": 14, "color": "#26a69a"},
          "encoding": {"x": {"datum": 71.4}, "y": {"datum": 0.6769}}
        },
        {
          "data": {"values": [{}]},
          "mark": {"type": "text", "text": "C", "align": "left", "baseline": "middle", "fontSize": 14, "color": "#b2b5be"},
          "encoding": {"x": {"datum": 84.0}, "y": {"datum": 0.6769}}
        },
        {
          "data": {"values": [{}]},
          "mark": {"type": "text", "text": "0.5192  +0.0012 (+0.23%)", "align": "left", "baseline": "middle", "fontSize": 14, "color": "#26a69a"},
          "encoding": {"x": {"datum": 86.3}, "y": {"datum": 0.6769}}
        },
        {
          "data": {"values": [{}]},
          "mark": {"type": "rect", "fill": "#161a25", "stroke": "#f23645", "strokeWidth": 1, "cornerRadius": 4},
          "encoding": {"x": {"datum": 2.0}, "x2": {"datum": 17.1}, "y": {"datum": 0.6678}, "y2": {"datum": 0.6447}}
        },
        {
          "data": {"values": [{}]},
          "mark": {"type": "text", "text": "0.5192", "align": "center", "baseline": "middle", "fontSize": 15, "color": "#f7525f"},
          "encoding": {"x": {"datum": 9.5}, "y": {"datum": 0.6563}}
        },
        {
          "data": {"values": [{}]},
          "mark": {"type": "text", "text": "0.0100", "align": "center", "baseline": "middle", "fontSize": 12, "fontWeight": "bold", "color": "#d1d4dc"},
          "encoding": {"x": {"datum": 22.7}, "y": {"datum": 0.6639}}
        },
        {
          "data": {"values": [{}]},
          "mark": {"type": "rect", "fill": "#222631", "cornerRadius": 3},
          "encoding": {"x": {"datum": 18.5}, "x2": {"datum": 27.1}, "y": {"datum": 0.6577}, "y2": {"datum": 0.6466}}
        },
        {
          "data": {"values": [{}]},
          "mark": {"type": "text", "text": "1", "align": "center", "baseline": "middle", "fontSize": 14, "color": "#d1d4dc"},
          "encoding": {"x": {"datum": 22.7}, "y": {"datum": 0.6519}}
        },
        {
          "data": {"values": [{}]},
          "mark": {"type": "rect", "fill": "#161a25", "stroke": "#22ab94", "strokeWidth": 1, "cornerRadius": 4},
          "encoding": {"x": {"datum": 28.5}, "x2": {"datum": 43.4}, "y": {"datum": 0.6678}, "y2": {"datum": 0.6447}}
        },
        {
          "data": {"values": [{}]},
          "mark": {"type": "text", "text": "0.5292", "align": "center", "baseline": "middle", "fontSize": 15, "color": "#22ab94"},
          "encoding": {"x": {"datum": 36.0}, "y": {"datum": 0.6563}}
        },
        {
          "data": {"values": [{}]},
          "mark": {"type": "rect", "fill": "#1e222d", "fillOpacity": 0.8, "stroke": "#434651", "strokeWidth": 1, "cornerRadius": 3},
          "encoding": {"x": {"datum": 2.2}, "x2": {"datum": 11.1}, "y": {"datum": 0.6408}, "y2": {"datum": 0.6289}}
        },
        {
          "data": {"values": [{}]},
          "mark": {"type": "text", "text": "∨ 2", "align": "center", "baseline": "middle", "fontSize": 14, "color": "#d1d4dc"},
          "encoding": {"x": {"datum": 6.7}, "y": {"datum": 0.6349}}
        }
      ]
    },
    {
      "width": 1307,
      "height": 98,
      "layer": [
        {
          "data": {"name": "bars"},
          "transform": [{"window": [{"op": "lag", "field": "hs", "as": "prev"}], "sort": [{"field": "t"}]}],
          "mark": {"type": "bar", "size": 3.5, "clip": true},
          "encoding": {
            "x": {"field": "t", "type": "quantitative", "scale": {"domain": [0, 290.4], "nice": false, "zero": false, "padding": 0},
                  "axis": {"values": [4.7, 52.7, 78.7, 127.6, 175.6, 201.3, 250], "labels": false, "ticks": false, "grid": true}},
            "y": {"field": "hs", "type": "quantitative", "scale": {"domain": [-0.0235, 0.0149], "nice": false, "zero": false, "padding": 0},
                  "axis": {"orient": "right", "values": [0, -0.02], "format": ".4f", "grid": true, "tickSize": 6, "labelPadding": 8}},
            "y2": {"datum": 0},
            "color": {
              "condition": [
                {"test": "datum.hs >= 0 && (datum.prev == null || datum.hs >= datum.prev)", "value": "#26a69a"},
                {"test": "datum.hs >= 0", "value": "#b2dfdb"},
                {"test": "datum.prev != null && datum.hs > datum.prev", "value": "#ffcdd2"}
              ],
              "value": "#ff5252"
            }
          }
        },
        {
          "data": {"name": "macd"},
          "mark": {"type": "line", "color": "#2196f3", "strokeWidth": 1.6, "interpolate": "monotone", "clip": true},
          "encoding": {
            "x": {"field": "t", "type": "quantitative"},
            "y": {"field": "m", "type": "quantitative"}
          }
        },
        {
          "data": {"name": "macd"},
          "mark": {"type": "line", "color": "#ff6d00", "strokeWidth": 1.6, "interpolate": "monotone", "clip": true},
          "encoding": {
            "x": {"field": "t", "type": "quantitative"},
            "y": {"field": "s", "type": "quantitative"}
          }
        }
      ]
    },
    {
      "width": 1307,
      "height": 85,
      "layer": [
        {
          "data": {"name": "rsi"},
          "mark": {"type": "line", "color": "#7e57c2", "strokeWidth": 1.3, "clip": true},
          "encoding": {
            "x": {"field": "t", "type": "quantitative", "scale": {"domain": [0, 290.4], "nice": false, "zero": false, "padding": 0},
                  "axis": {"values": [4.7, 52.7, 78.7, 127.6, 175.6, 201.3, 250], "ticks": false, "grid": true, "labelPadding": 10,
                           "labelExpr": "datum.value < 10 ? '10' : datum.value < 60 ? '13' : datum.value < 100 ? '15' : datum.value < 150 ? '17' : datum.value < 190 ? '20' : datum.value < 220 ? '22' : '24'"}},
            "y": {"field": "r", "type": "quantitative", "scale": {"domain": [-5.8, 93], "nice": false, "zero": false, "padding": 0},
                  "axis": {"orient": "right", "values": [0, 50], "format": ".2f", "grid": true, "tickSize": 6, "labelPadding": 8}}
          }
        },
        {
          "data": {"values": [{}]},
          "mark": {"type": "rect", "color": "#7e57c2", "opacity": 0.1},
          "encoding": {
            "x": {"datum": 0},
            "x2": {"datum": 290.4},
            "y": {"datum": 70},
            "y2": {"datum": 30}
          }
        },
        {
          "data": {"values": [{"r": 70}, {"r": 30}]},
          "mark": {"type": "rule", "color": "#787b86", "strokeDash": [4, 4], "strokeWidth": 1},
          "encoding": {"y": {"field": "r", "type": "quantitative"}}
        },
        {
          "data": {"values": [{}]},
          "mark": {"type": "text", "text": "⚙", "align": "center", "baseline": "middle", "fontSize": 18, "color": "#b2b5be"},
          "encoding": {"x": {"datum": 300}, "y": {"datum": -28}}
        }
      ]
    }
  ]
}
